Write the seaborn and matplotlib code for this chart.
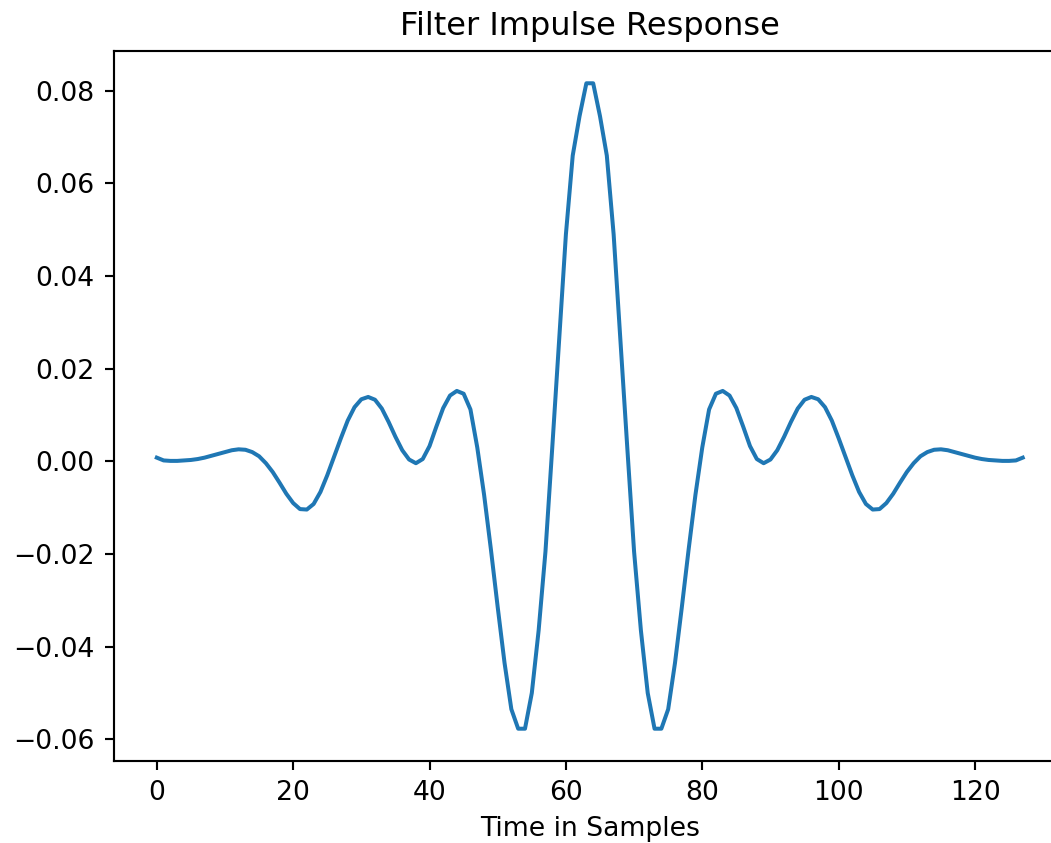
import numpy as np
import seaborn as sns
import matplotlib
matplotlib.use("Agg")
import matplotlib.pyplot as plt

# filter taps (128 samples)
samples = np.arange(128)
taps = [
    0.0008, 0.0002, 0.0001, 0.0001, 0.0002, 0.0003, 0.0005, 0.0008,
    0.0012, 0.0016, 0.0020, 0.0024, 0.0026, 0.0025, 0.0020, 0.0011,
    -0.0004, -0.0023, -0.0046, -0.0070, -0.0090, -0.0103, -0.0104, -0.0092,
    -0.0066, -0.0030, 0.0010, 0.0050, 0.0088, 0.0117, 0.0134, 0.0139,
    0.0133, 0.0114, 0.0085, 0.0053, 0.0024, 0.0004, -0.0004, 0.0005,
    0.0033, 0.0075, 0.0115, 0.0142, 0.0152, 0.0146, 0.0112, 0.0030,
    -0.0072, -0.0190, -0.0315, -0.0435, -0.0535, -0.0577, -0.0577, -0.0500,
    -0.0365, -0.0195, 0.0030, 0.0260, 0.0490, 0.0660, 0.0745, 0.0816,
    0.0816, 0.0745, 0.0660, 0.0490, 0.0260, 0.0030, -0.0195, -0.0365,
    -0.0500, -0.0577, -0.0577, -0.0535, -0.0435, -0.0315, -0.0190, -0.0072,
    0.0030, 0.0112, 0.0146, 0.0152, 0.0142, 0.0115, 0.0075, 0.0033,
    0.0005, -0.0004, 0.0004, 0.0024, 0.0053, 0.0085, 0.0114, 0.0133,
    0.0139, 0.0134, 0.0117, 0.0088, 0.0050, 0.0010, -0.0030, -0.0066,
    -0.0092, -0.0104, -0.0103, -0.0090, -0.0070, -0.0046, -0.0023, -0.0004,
    0.0011, 0.0020, 0.0025, 0.0026, 0.0024, 0.0020, 0.0016, 0.0012,
    0.0008, 0.0005, 0.0003, 0.0002, 0.0001, 0.0001, 0.0002, 0.0008,
]

fig = plt.figure(figsize=(1051 / 192, 843 / 192), dpi=192)
# the reference is cropped on the right, so the axes run past the edge
ax = fig.add_axes([0.1080, 0.0973, 0.9063, 0.8422])

sns.lineplot(x=samples, y=taps, ax=ax)

ax.set_title("Filter Impulse Response")
ax.set_xlabel("Time in Samples")
ax.set_ylabel("")

fig.savefig("out.png", dpi=192)
